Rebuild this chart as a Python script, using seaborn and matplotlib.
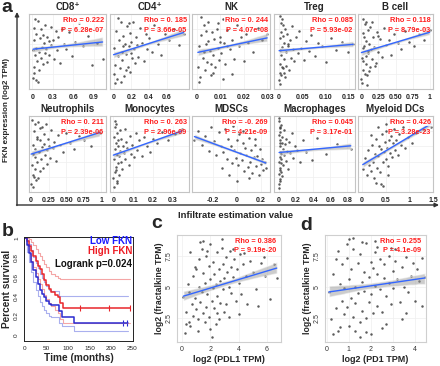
import numpy as np
import matplotlib
matplotlib.use("Agg")
import matplotlib.pyplot as plt
import seaborn as sns
from matplotlib.collections import PolyCollection

# ---------------- data: panel a (immune infiltration vs FKN expression) ----------------
CD8_x = [0.01,0.02,0.02,0.03,0.03,0.04,0.05,0.05,0.06,0.07,0.08,0.09,0.10,0.11,0.12,0.13,0.14,0.15,0.16,0.17,
         0.18,0.19,0.20,0.21,0.22,0.24,0.25,0.27,0.28,0.30,0.32,0.34,0.36,0.38,0.41,0.44,0.47,0.50,0.54,0.58,
         0.63,0.68,0.74,0.81,0.88,0.95,1.03,0.01,0.04,0.08]
CD8_y = [1.5,3.0,6.5,2.2,8.2,4.6,5.5,1.2,7.4,3.8,9.1,5.0,2.6,6.8,4.2,8.0,5.6,3.3,7.2,6.1,
         4.8,8.6,5.3,3.6,7.0,6.4,4.5,8.3,5.9,6.6,4.0,7.7,5.2,6.9,3.5,8.0,6.0,5.4,7.6,4.4,
         6.3,8.8,5.7,7.1,3.2,6.2,4.0,5.2,9.4,0.9]

CD4_x = [0.00,0.01,0.02,0.03,0.04,0.05,0.06,0.07,0.08,0.09,0.10,0.11,0.12,0.13,0.14,0.15,0.16,0.17,0.18,0.19,
         0.20,0.21,0.22,0.23,0.24,0.25,0.26,0.28,0.30,0.32,0.34,0.36,0.38,0.40,0.43,0.46,0.50,0.54,0.58,0.63,
         0.68,0.74,0.79,0.02,0.05,0.08,0.11,0.14,0.17,0.20]
CD4_y = [2.0,5.5,3.2,7.8,1.4,4.4,6.6,2.8,8.9,5.0,3.9,7.1,1.8,6.0,4.7,8.4,3.0,5.8,7.5,2.3,
         6.3,4.1,9.0,5.3,3.5,7.0,5.9,4.3,8.1,6.2,3.8,7.4,5.4,6.8,4.9,8.6,6.0,4.6,7.3,6.6,
         8.0,5.9,7.4,0.8,9.5,1.0,5.7,2.5,8.8,4.8]

NK_x = [0.0005,0.001,0.0015,0.002,0.0025,0.003,0.0035,0.004,0.0045,0.005,0.0055,0.006,0.0065,0.007,0.0075,
        0.008,0.0085,0.009,0.0095,0.010,0.0105,0.011,0.0115,0.012,0.013,0.014,0.015,0.016,0.017,0.018,
        0.019,0.020,0.021,0.022,0.024,0.026,0.028,0.030,0.001,0.003,0.005,0.007,0.009,0.011,0.013,
        0.002,0.006,0.010,0.015,0.004]
NK_y = [3.0,5.8,1.6,7.2,4.2,8.5,2.5,6.0,3.6,9.0,5.1,1.9,7.6,4.5,6.7,2.9,8.0,5.5,3.9,7.0,
        4.8,9.3,6.2,3.4,7.9,5.3,6.5,4.0,8.6,5.8,6.9,3.7,7.4,6.1,5.0,8.2,6.6,7.3,
        0.9,4.9,6.4,2.2,8.8,1.3,5.7,9.6,3.3,6.3,2.0,7.7]

Treg_x = [0.000,0.001,0.002,0.003,0.004,0.005,0.006,0.007,0.008,0.009,0.010,0.011,0.012,0.013,0.014,0.015,
          0.017,0.019,0.021,0.023,0.025,0.027,0.030,0.033,0.036,0.040,0.044,0.048,0.053,0.058,
          0.064,0.070,0.077,0.085,0.093,0.102,0.112,0.123,0.135,0.148,0.160,
          0.001,0.003,0.005,0.002,0.004,0.006,0.008,0.010,0.020]
Treg_y = [1.2,3.4,6.8,2.1,8.8,4.5,5.6,9.4,2.8,7.1,4.0,6.2,1.6,8.0,5.0,3.1,
          7.4,5.8,2.5,6.6,4.2,8.4,5.3,3.7,6.9,4.8,7.8,5.5,3.9,6.4,
          5.1,7.2,4.4,6.1,5.7,3.6,6.8,5.2,6.3,4.9,6.0,
          0.7,9.7,1.9,5.2,7.6,3.0,8.6,2.2,6.0]

B_x = [0.00,0.01,0.02,0.03,0.04,0.05,0.06,0.07,0.08,0.09,0.10,0.11,0.12,0.13,0.14,0.15,0.17,0.19,0.21,0.23,
       0.25,0.27,0.30,0.33,0.36,0.40,0.44,0.48,0.53,0.58,0.64,0.70,0.77,0.84,0.92,1.00,
       0.01,0.02,0.03,0.05,0.07,0.09,0.11,0.04,0.06,0.15,0.20,0.25,0.02,0.08]
B_y = [1.4,4.2,7.5,2.6,5.8,8.7,3.4,6.4,1.9,7.9,4.8,6.0,3.0,8.3,5.3,4.0,6.9,5.6,3.5,7.6,
       5.0,6.7,4.3,8.1,5.9,6.5,4.6,7.4,6.2,5.4,7.8,6.3,5.7,7.3,6.6,7.9,
       0.8,9.3,3.8,2.0,9.0,5.1,2.4,6.9,4.4,8.9,3.1,7.1,5.5,0.5]

Neu_x = [0.00,0.01,0.02,0.03,0.04,0.05,0.06,0.07,0.08,0.09,0.10,0.11,0.12,0.13,0.14,0.15,0.16,0.17,0.18,0.19,
         0.20,0.21,0.22,0.23,0.24,0.25,0.27,0.29,0.31,0.33,0.35,0.38,0.41,0.45,0.50,0.55,0.61,0.68,0.76,0.85,
         0.98,0.01,0.02,0.03,0.04,0.05,0.06,0.08,0.10,0.12]
Neu_y = [1.0,3.5,6.2,2.3,8.0,4.6,5.6,1.6,7.3,3.9,9.2,5.2,2.8,6.8,4.3,8.5,5.9,3.2,7.6,6.3,
         4.9,8.9,5.5,3.7,7.0,6.0,4.5,8.2,5.8,6.6,4.1,7.5,6.2,5.3,7.8,6.5,5.6,7.4,6.9,6.1,
         7.8,9.5,0.6,5.0,2.0,9.0,3.0,7.0,1.9,8.4]

Mono_x = [0.000,0.002,0.004,0.006,0.008,0.010,0.012,0.014,0.016,0.018,0.020,0.022,0.025,0.028,0.031,0.034,
          0.037,0.040,0.044,0.048,0.052,0.056,0.060,0.065,0.070,0.076,0.082,0.089,0.096,0.104,
          0.112,0.121,0.131,0.142,0.154,0.168,0.183,0.200,0.220,0.245,0.275,0.310,0.345,
          0.003,0.007,0.011,0.015,0.019,0.023,0.030]
Mono_y = [1.8,4.4,7.2,2.6,5.7,8.5,3.3,6.4,1.2,7.8,4.9,3.8,6.9,2.2,8.1,5.4,
          4.0,7.0,3.0,6.1,5.1,8.3,4.3,6.6,5.8,3.5,7.4,5.0,6.2,4.6,
          7.7,5.5,6.8,4.8,7.2,6.0,5.2,7.0,6.4,7.9,6.9,7.6,8.3,
          0.7,9.3,2.9,8.9,1.5,6.0,4.7]

MD_x = [-0.35,-0.32,-0.29,-0.26,-0.23,-0.21,-0.19,-0.17,-0.15,-0.13,-0.11,-0.10,-0.08,-0.07,-0.05,-0.04,
        -0.03,-0.02,-0.01,0.00,0.01,0.02,0.03,0.04,0.05,0.06,0.07,0.08,0.09,0.10,
        0.11,0.12,0.13,0.14,0.15,0.16,0.17,0.18,0.19,0.20,0.21,0.22,0.23,0.24,
        -0.12,-0.06,0.00,0.05,0.10,0.15]
MD_y = [6.8,8.0,6.2,7.4,5.4,8.6,6.7,4.9,7.9,6.1,5.3,8.3,4.4,7.0,6.0,3.8,
        8.7,5.5,4.5,6.9,3.6,7.6,5.1,4.2,6.4,2.8,5.8,4.9,3.3,7.1,
        4.0,5.5,2.5,4.6,6.2,3.4,4.8,2.2,5.6,3.7,4.3,2.9,3.9,3.2,
        3.1,2.2,1.5,8.0,1.9,7.0]

Mac_x = [0.000,0.001,0.002,0.003,0.004,0.005,0.006,0.007,0.008,0.009,0.010,0.012,0.014,0.016,0.018,0.020,
         0.023,0.026,0.030,0.034,0.038,0.043,0.048,0.054,0.060,0.067,0.075,0.084,0.094,0.105,
         0.118,0.132,0.148,0.166,0.186,0.210,0.240,0.275,0.32,0.38,0.45,0.55,0.68,0.84,
         0.002,0.004,0.006,0.008,0.015,0.025]
Mac_y = [1.0,4.0,7.5,2.4,9.3,5.3,3.2,6.8,1.7,8.4,4.6,6.1,2.9,7.9,5.0,3.8,
         8.8,4.4,6.5,2.1,7.2,5.6,3.5,8.1,4.9,6.3,4.1,7.0,5.4,3.0,
         6.6,5.1,7.7,4.5,6.0,5.5,3.9,6.9,5.2,4.2,7.1,5.0,6.3,5.7,
         0.5,9.8,1.4,6.4,8.6,2.6]

DC_x = [0.02,0.06,0.10,0.13,0.16,0.19,0.22,0.24,0.26,0.28,0.30,0.32,0.34,0.36,0.38,0.40,0.42,0.44,0.46,0.48,
        0.50,0.52,0.54,0.56,0.58,0.60,0.62,0.64,0.66,0.68,0.70,0.73,0.76,0.79,0.83,0.87,0.92,0.98,1.05,1.15,
        1.30,1.45,0.30,0.40,0.50,0.60,0.35,0.45,0.55,0.20]
DC_y = [3.0,4.5,2.2,5.5,3.6,2.8,6.2,4.0,1.8,5.0,7.0,3.2,4.8,6.0,2.6,5.6,7.6,3.9,5.2,6.6,
        4.4,8.0,5.8,3.4,6.9,5.1,7.4,4.6,6.4,8.3,5.5,6.9,4.9,7.6,6.2,8.6,5.8,7.2,6.5,7.8,
        8.2,8.6,1.2,1.0,9.0,9.3,8.5,0.8,2.2,7.5]

cell_names = ["CD8\u207a", "CD4\u207a", "NK", "Treg", "B cell",
              "Neutrophils", "Monocytes", "MDSCs", "Macrophages", "Myeloid DCs"]
cell_x = [CD8_x, CD4_x, NK_x, Treg_x, B_x, Neu_x, Mono_x, MD_x, Mac_x, DC_x]
cell_y = [CD8_y, CD4_y, NK_y, Treg_y, B_y, Neu_y, Mono_y, MD_y, Mac_y, DC_y]
rho_labels = ["Rho = 0.222", "Rho = 0. 185", "Rho = 0. 244", "Rho = 0.085", "Rho = 0.118",
              "Rho = 0. 211", "Rho = 0. 263", "Rho = -0. 269", "Rho = 0.045", "Rho = 0.426"]
p_labels = ["P = 6.28e-07", "P = 3.66e-05", "P = 4.07e-08", "P = 5.93e-02", "P = 8.79e-03",
            "P = 2.39e-06", "P = 2.96e-09", "P = 4.21e-09", "P = 3.17e-01", "P = 3.28e-23"]
tick_vals = [[0, 0.3, 0.6, 0.9], [0, 0.2, 0.4, 0.6], [0, 0.01, 0.02, 0.03], [0, 0.05, 0.10, 0.15],
             [0, 0.25, 0.5, 0.75, 1], [0, 0.25, 0.5, 0.75, 1], [0, 0.1, 0.2, 0.3], [-0.2, 0, 0.2],
             [0, 0.2, 0.4, 0.6, 0.8], [0, 0.5, 1, 1.5]]
tick_text = [["0", "0.3", "0.6", "0.9"], ["0", "0.2", "0.4", "0.6"], ["0", "0.01", "0.02", "0.03"],
             ["0", "0.05", "0.10", "0.15"], ["0", "0.25", "0.50", "0.75", "1"],
             ["0", "0.25", "0.50", "0.75", "1"], ["0", "0.1", "0.2", "0.3"], ["-0.2", "0", "0.2"],
             ["0", "0.2", "0.4", "0.6", "0.8"], ["0", "0.5", "1", "1.5"]]

# ---------------- data: panel b (Kaplan-Meier) ----------------
low_t = [0, 5, 10, 15, 20, 25, 30, 35, 40, 45, 50, 55, 60, 80, 86, 115, 240]
low_s = [1, 0.93, 0.85, 0.76, 0.67, 0.60, 0.53, 0.47, 0.43, 0.39, 0.35, 0.32, 0.31, 0.25, 0.19, 0.13, 0.13]
low_hi = [1, 0.98, 0.94, 0.88, 0.81, 0.75, 0.69, 0.63, 0.59, 0.55, 0.51, 0.47, 0.46, 0.41, 0.40, 0.40, 0.40]
low_lo = [1, 0.86, 0.76, 0.65, 0.55, 0.47, 0.40, 0.34, 0.30, 0.26, 0.23, 0.20, 0.19, 0.13, 0.09, 0.04, 0.04]
high_t = [0, 5, 10, 15, 20, 25, 30, 35, 40, 45, 50, 55, 60, 70, 78, 82, 88, 245]
high_s = [1, 0.97, 0.92, 0.87, 0.82, 0.77, 0.72, 0.68, 0.63, 0.57, 0.52, 0.48, 0.45, 0.42, 0.39, 0.33, 0.28, 0.28]
high_hi = [1, 1.0, 0.99, 0.96, 0.93, 0.89, 0.85, 0.82, 0.78, 0.74, 0.70, 0.66, 0.63, 0.61, 0.59, 0.58, 0.58, 0.58]
high_lo = [1, 0.92, 0.84, 0.77, 0.70, 0.64, 0.58, 0.53, 0.48, 0.42, 0.37, 0.33, 0.30, 0.26, 0.23, 0.17, 0.13, 0.13]
low_cens_t = [228, 236]
low_cens_s = [0.13, 0.13]
high_cens_t = [128, 195, 244]
high_cens_s = [0.28, 0.28, 0.28]

# ---------------- data: panels c, d ----------------
c_x = [0.1,0.2,0.3,0.4,0.5,0.5,0.6,0.7,0.8,0.8,0.9,1.0,1.0,1.1,1.2,1.2,1.3,1.4,1.4,1.5,
       1.5,1.6,1.7,1.7,1.8,1.9,1.9,2.0,2.0,2.1,2.2,2.2,2.3,2.3,2.4,2.5,2.5,2.6,2.7,2.7,
       2.8,2.9,2.9,3.0,3.1,3.1,3.2,3.3,3.4,3.5,3.5,3.6,3.7,3.8,3.9,4.0,4.1,4.2,4.3,4.5,
       4.6,4.8,5.0,5.2,5.4,5.6,5.9,6.2,6.5,6.7,
       0.6,1.1,1.6,2.1,2.6,3.0,1.3,1.8,2.4,0.9,3.3,2.8,4.4,5.8,0.3,1.5,2.0,2.5,3.6,4.0]
c_y = [4.2,1.3,3.0,5.2,2.2,4.6,7.8,3.6,2.7,5.9,4.1,3.2,6.4,2.4,5.0,7.2,3.8,4.6,8.0,2.9,
       6.1,5.3,3.4,7.5,4.4,6.7,2.6,5.6,8.4,3.9,4.9,7.0,3.3,6.0,5.2,4.3,7.8,6.4,3.7,5.5,
       8.8,4.8,6.8,5.7,7.4,3.6,6.2,5.0,7.9,4.5,6.6,5.8,7.2,3.9,6.4,5.3,7.6,4.4,6.8,5.9,
       3.6,7.1,6.2,4.8,3.5,6.9,5.9,4.0,6.8,5.7,
       1.9,1.5,2.2,1.0,2.4,3.0,8.6,7.9,2.0,6.6,2.6,8.1,7.7,7.4,2.0,8.7,1.6,2.9,8.0,2.8]
d_x = [0.1,0.2,0.3,0.4,0.5,0.5,0.6,0.7,0.7,0.8,0.8,0.9,0.9,1.0,1.0,1.1,1.1,1.2,1.2,1.3,
       1.3,1.4,1.4,1.5,1.5,1.6,1.6,1.7,1.7,1.8,1.8,1.9,1.9,2.0,2.0,2.1,2.1,2.2,2.2,2.3,
       2.3,2.4,2.4,2.5,2.6,2.6,2.7,2.8,2.8,2.9,3.0,3.0,3.1,3.2,3.3,3.4,3.5,3.6,3.7,3.8,
       3.9,4.0,4.1,4.2,4.3,4.45,
       0.3,0.6,1.0,1.3,1.6,2.0,2.3,2.7,3.1,0.9,1.5,2.5,3.4,4.3,1.2,1.8,2.2,0.4,3.6,2.9]
d_y = [4.6,2.4,6.0,3.3,7.9,1.5,5.2,3.9,6.8,2.8,4.9,7.3,3.4,5.6,1.9,6.4,4.1,8.0,2.6,5.0,
       3.7,6.9,4.5,2.2,7.6,5.4,3.1,6.2,4.7,8.5,2.5,5.8,3.8,7.0,4.4,6.5,2.9,5.1,7.8,3.5,
       6.0,4.8,7.2,3.0,5.7,6.8,4.3,7.5,5.3,3.6,6.3,4.9,7.1,5.6,3.8,6.6,5.0,7.4,4.6,5.9,
       6.9,3.9,6.4,5.5,7.3,5.8,
       1.2,1.8,8.8,1.5,8.6,1.2,8.2,2.0,8.0,8.4,1.0,1.7,2.4,3.5,8.9,1.4,8.7,7.2,2.9,8.1]

# ---------------- layout / style ----------------
sns.set_style("white")
plt.rcParams["font.family"] = ["Liberation Sans", "DejaVu Sans"]

W, H = 440, 366
fig = plt.figure(figsize=(W / 100, H / 100), dpi=100)


def px_axes(x0, y0, x1, y1):
    return fig.add_axes([x0 / W, 1 - y1 / H, (x1 - x0) / W, (y1 - y0) / H])


def frame(ax, color="#c4c4c4"):
    for sp in ax.spines.values():
        sp.set_visible(True)
        sp.set_color(color)
        sp.set_linewidth(0.8)
    ax.grid(True, color="#efefef", lw=0.5)
    ax.set_axisbelow(True)


def reg(ax, x, y, ci):
    sns.regplot(x=np.array(x), y=np.array(y), ax=ax, ci=ci, n_boot=300, seed=3,
                scatter_kws=dict(s=3.2, color="#333333", linewidths=0),
                line_kws=dict(color="#3366FF", lw=1.0))
    for coll in ax.collections:
        if isinstance(coll, PolyCollection):
            coll.set_facecolor("#9a9a9a")
            coll.set_alpha(0.5)
    ax.set_xlabel("")
    ax.set_ylabel("")


xlims = [(-0.05, 1.08), (-0.04, 0.85), (-0.002, 0.0312), (-0.011, 0.164), (-0.05, 1.05),
         (-0.03, 1.07), (-0.017, 0.38), (-0.37, 0.275), (-0.06, 0.89), (-0.08, 1.5)]
cols = [(29, 106), (110, 189), (192, 270), (274, 355), (358, 433)]
rows = [(14, 89), (116, 192)]

for i in range(10):
    (x0, x1) = cols[i % 5]
    (y0, y1) = rows[i // 5]
    ax = px_axes(x0, y0, x1, y1)
    frame(ax)
    reg(ax, cell_x[i], cell_y[i], 55)
    ax.set_xlim(*xlims[i])
    ax.set_ylim(0, 10)
    ax.set_yticks([2, 4, 6, 8])
    ax.set_yticklabels([])
    ax.set_xticks(tick_vals[i])
    ax.set_xticklabels(tick_text[i], fontsize=5, fontweight="bold", color="#222222")
    ax.tick_params(axis="both", length=0, pad=3.5)
    ax.set_title(cell_names[i], fontsize=7, fontweight="bold", pad=3)
    ax.text(0.97, 0.915, rho_labels[i], transform=ax.transAxes, ha="right", va="center",
            fontsize=5.3, fontweight="bold", color="#ff2020",
            bbox=dict(facecolor="white", edgecolor="none", pad=0.3, alpha=0.85))
    ax.text(0.97, 0.785, p_labels[i], transform=ax.transAxes, ha="right", va="center",
            fontsize=5.3, fontweight="bold", color="#ff2020")

# ---------------- panel b ----------------
axb = px_axes(24, 237, 133, 341)
sns.lineplot(x=high_t, y=high_hi, ax=axb, drawstyle="steps-post", color="#f4a6a6", lw=0.8, estimator=None)
sns.lineplot(x=high_t, y=high_lo, ax=axb, drawstyle="steps-post", color="#f4a6a6", lw=0.8, estimator=None)
sns.lineplot(x=low_t, y=low_hi, ax=axb, drawstyle="steps-post", color="#aab0ee", lw=0.8, estimator=None)
sns.lineplot(x=low_t, y=low_lo, ax=axb, drawstyle="steps-post", color="#aab0ee", lw=0.8, estimator=None)
sns.lineplot(x=high_t, y=high_s, ax=axb, drawstyle="steps-post", color="#e8262b", lw=1.1, estimator=None)
sns.lineplot(x=low_t, y=low_s, ax=axb, drawstyle="steps-post", color="#2a2ad0", lw=1.1, estimator=None)
sns.scatterplot(x=high_cens_t, y=high_cens_s, ax=axb, marker="|", s=14, color="#e8262b", linewidth=0.8)
sns.scatterplot(x=low_cens_t, y=low_cens_s, ax=axb, marker="|", s=14, color="#2a2ad0", linewidth=0.8)
axb.set_xlim(-2, 251)
axb.set_ylim(-0.06, 1.015)
axb.set_xticks([0, 50, 100, 150, 200, 250])
axb.set_xticklabels(["0", "50", "100", "150", "200", "250"], fontsize=4.6)
axb.set_yticks([0, 0.2, 0.4, 0.6, 0.8, 1])
axb.set_yticklabels(["0", "0.2", "0.4", "0.6", "0.8", "1"], fontsize=4.6, rotation=90, va="center")
axb.tick_params(axis="both", length=2, width=0.6, pad=1.5, color="#333333")
for sp in axb.spines.values():
    sp.set_visible(True)
    sp.set_color("#222222")
    sp.set_linewidth(0.7)
axb.set_xlabel("Time (months)", fontsize=7.3, fontweight="bold", labelpad=1.5)
axb.set_ylabel("Percent survival", fontsize=7.3, fontweight="bold", labelpad=1.5)
axb.text(0.99, 0.964, "Low FKN", transform=axb.transAxes, ha="right", va="center",
         fontsize=7, fontweight="bold", color="#1a1aff")
axb.text(0.99, 0.865, "High FKN", transform=axb.transAxes, ha="right", va="center",
         fontsize=7, fontweight="bold", color="#ee1c24")
axb.text(0.99, 0.74, "Logrank p=0.024", transform=axb.transAxes, ha="right", va="center",
         fontsize=7, fontweight="bold", color="#111111")

# ---------------- panels c, d ----------------
for (x0, x1), xs, ys, xl, xt, xlab, rho, pv in [
        ((177, 281), c_x, c_y, (-0.35, 7.0), [0, 2, 4, 6], "log2 (PDL1 TPM)", "Rho = 0.386", "P = 9.19e-20"),
        ((325, 426), d_x, d_y, (-0.08, 4.5), [0, 1, 2, 3, 4], "log2 (PD1 TPM)", "Rho = 0.255", "P = 4.1e-09")]:
    ax = px_axes(x0, 235, x1, 342)
    frame(ax, "#cfcfcf")
    reg(ax, xs, ys, 68)
    ax.set_xlim(*xl)
    ax.set_ylim(0.6, 9.15)
    ax.set_xticks(xt)
    ax.set_xticklabels([str(v) for v in xt], fontsize=5, color="#333333")
    ax.set_yticks([2.5, 5, 7.5])
    ax.set_yticklabels(["2.5", "5", "7.5"], fontsize=5, color="#333333", rotation=90, va="center")
    ax.tick_params(axis="both", length=1.5, width=0.5, pad=1.5, color="#888888")
    ax.set_xlabel(xlab, fontsize=6.5, fontweight="bold", labelpad=1)
    ax.set_ylabel("log2 (fractalkine TPM)", fontsize=6.3, fontweight="bold", labelpad=1)
    ax.text(0.95, 0.94, rho, transform=ax.transAxes, ha="right", va="center",
            fontsize=5.3, fontweight="bold", color="#ff2020")
    ax.text(0.95, 0.855, pv, transform=ax.transAxes, ha="right", va="center",
            fontsize=5.3, fontweight="bold", color="#ff2020")

# ---------------- overlay: arrows & panel letters ----------------
ov = fig.add_axes([0, 0, 1, 1])
ov.set_xlim(0, W)
ov.set_ylim(H, 0)
ov.axis("off")
arrow = dict(arrowstyle="-|>", color="#333333", lw=1.0, mutation_scale=6, shrinkA=0, shrinkB=0)
ov.annotate("", xy=(17, 12), xytext=(17, 205.5), arrowprops=arrow)
ov.annotate("", xy=(439, 205), xytext=(16.5, 205), arrowprops=arrow)
ov.text(1, 7, "a", fontsize=14, fontweight="bold", va="center", ha="left")
ov.text(7, 110, "FKN expression (log2 TPM)", fontsize=5.8, fontweight="bold", rotation=90,
        ha="center", va="center")
ov.text(236, 215, "Infiltrate estimation value", fontsize=6.8, fontweight="bold", ha="center", va="center")
ov.text(2, 231, "b", fontsize=14, fontweight="bold", va="center", ha="left")
ov.text(151, 224, "c", fontsize=14, fontweight="bold", va="center", ha="left")
ov.text(300, 226, "d", fontsize=14, fontweight="bold", va="center", ha="left")

fig.savefig("out.png", dpi=100)
